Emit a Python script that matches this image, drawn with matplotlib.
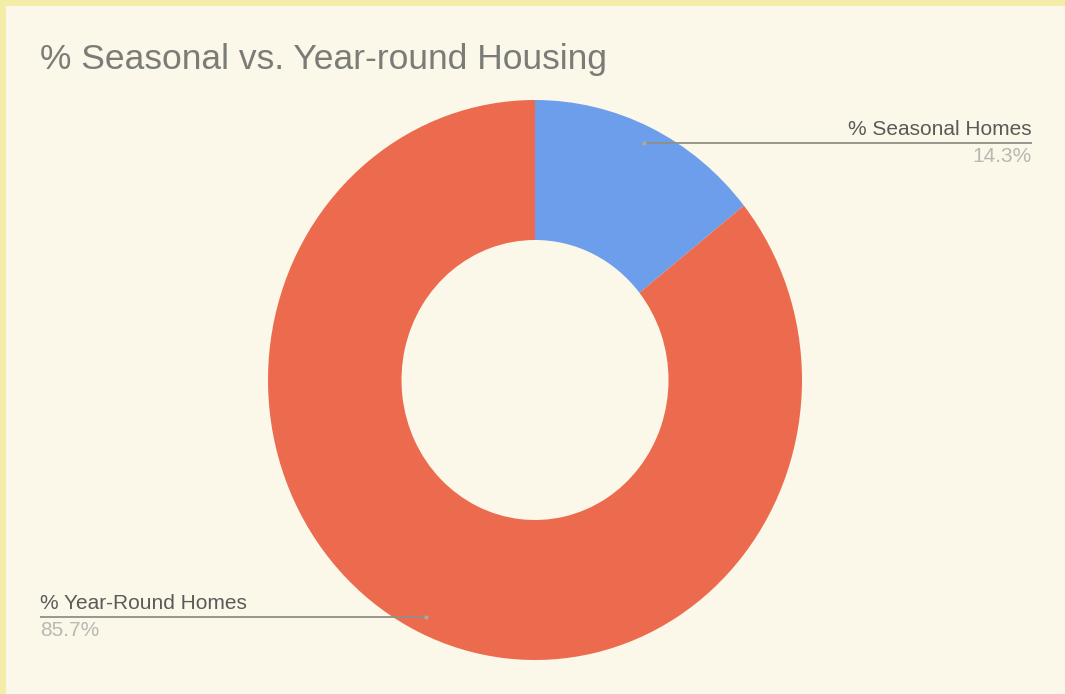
import numpy as np
from matplotlib import pyplot as plt
from matplotlib.patches import Rectangle

labels = ['% Seasonal Homes', '% Year-Round Homes']
values = [14.3, 85.7]
colors = ['#6d9eeb', '#ec6b4f']
title = '% Seasonal vs. Year-round Housing'

W, H = 1065, 694
plt.rcParams['font.family'] = ['Liberation Sans', 'DejaVu Sans']

fig = plt.figure(figsize=(W / 100, H / 100), dpi=100)
fig.patch.set_facecolor('#f4eda8')

# cream panel (yellow border only on top and left)
fig.patches.append(Rectangle((6 / W, 0), 1, 1 - 6 / H, transform=fig.transFigure,
                             facecolor='#fbf8e9', edgecolor='none', zorder=-1))

# pie axes, box slightly taller than wide like the original
pie_ax = fig.add_axes([268 / W, (H - 660) / H, 534 / W, 560 / H])
wedges, _ = pie_ax.pie(values, colors=colors, startangle=90, counterclock=False,
                       wedgeprops=dict(width=0.5, linewidth=0))
pie_ax.set_aspect('auto')
pie_ax.set_xlim(-1, 1)
pie_ax.set_ylim(-1, 1)

# overlay in pixel coords for text and leaders
ov = fig.add_axes([0, 0, 1, 1])
ov.set_xlim(0, W)
ov.set_ylim(H, 0)
ov.set_axis_off()

ov.text(40, 59, title, fontsize=25.5, color='#7b7b78', va='center', ha='left')

to_px = pie_ax.transData + ov.transData.inverted()
label_pos = [(1032, 'right'), (40, 'left')]
for w, lab, val, (lx, ha) in zip(wedges, labels, values, label_pos):
    mid = np.deg2rad((w.theta1 + w.theta2) / 2)
    ax_x, ax_y = 0.94 * np.cos(mid), 0.94 * np.sin(mid)
    px, py = to_px.transform((ax_x, ax_y))
    ov.plot([px, lx], [py, py], color='#8f8f86', lw=1.3, solid_capstyle='butt')
    ov.plot([px], [py], 'o', ms=3, color='#a9a9a0', mec='none')
    ov.text(lx, py - 4, lab, fontsize=15, color='#5a5a58', ha=ha, va='bottom')
    ov.text(lx, py + 4, f'{val}%', fontsize=15, color='#b8b8b2', ha=ha, va='top')

fig.savefig('out.png', dpi=100, facecolor=fig.get_facecolor())
